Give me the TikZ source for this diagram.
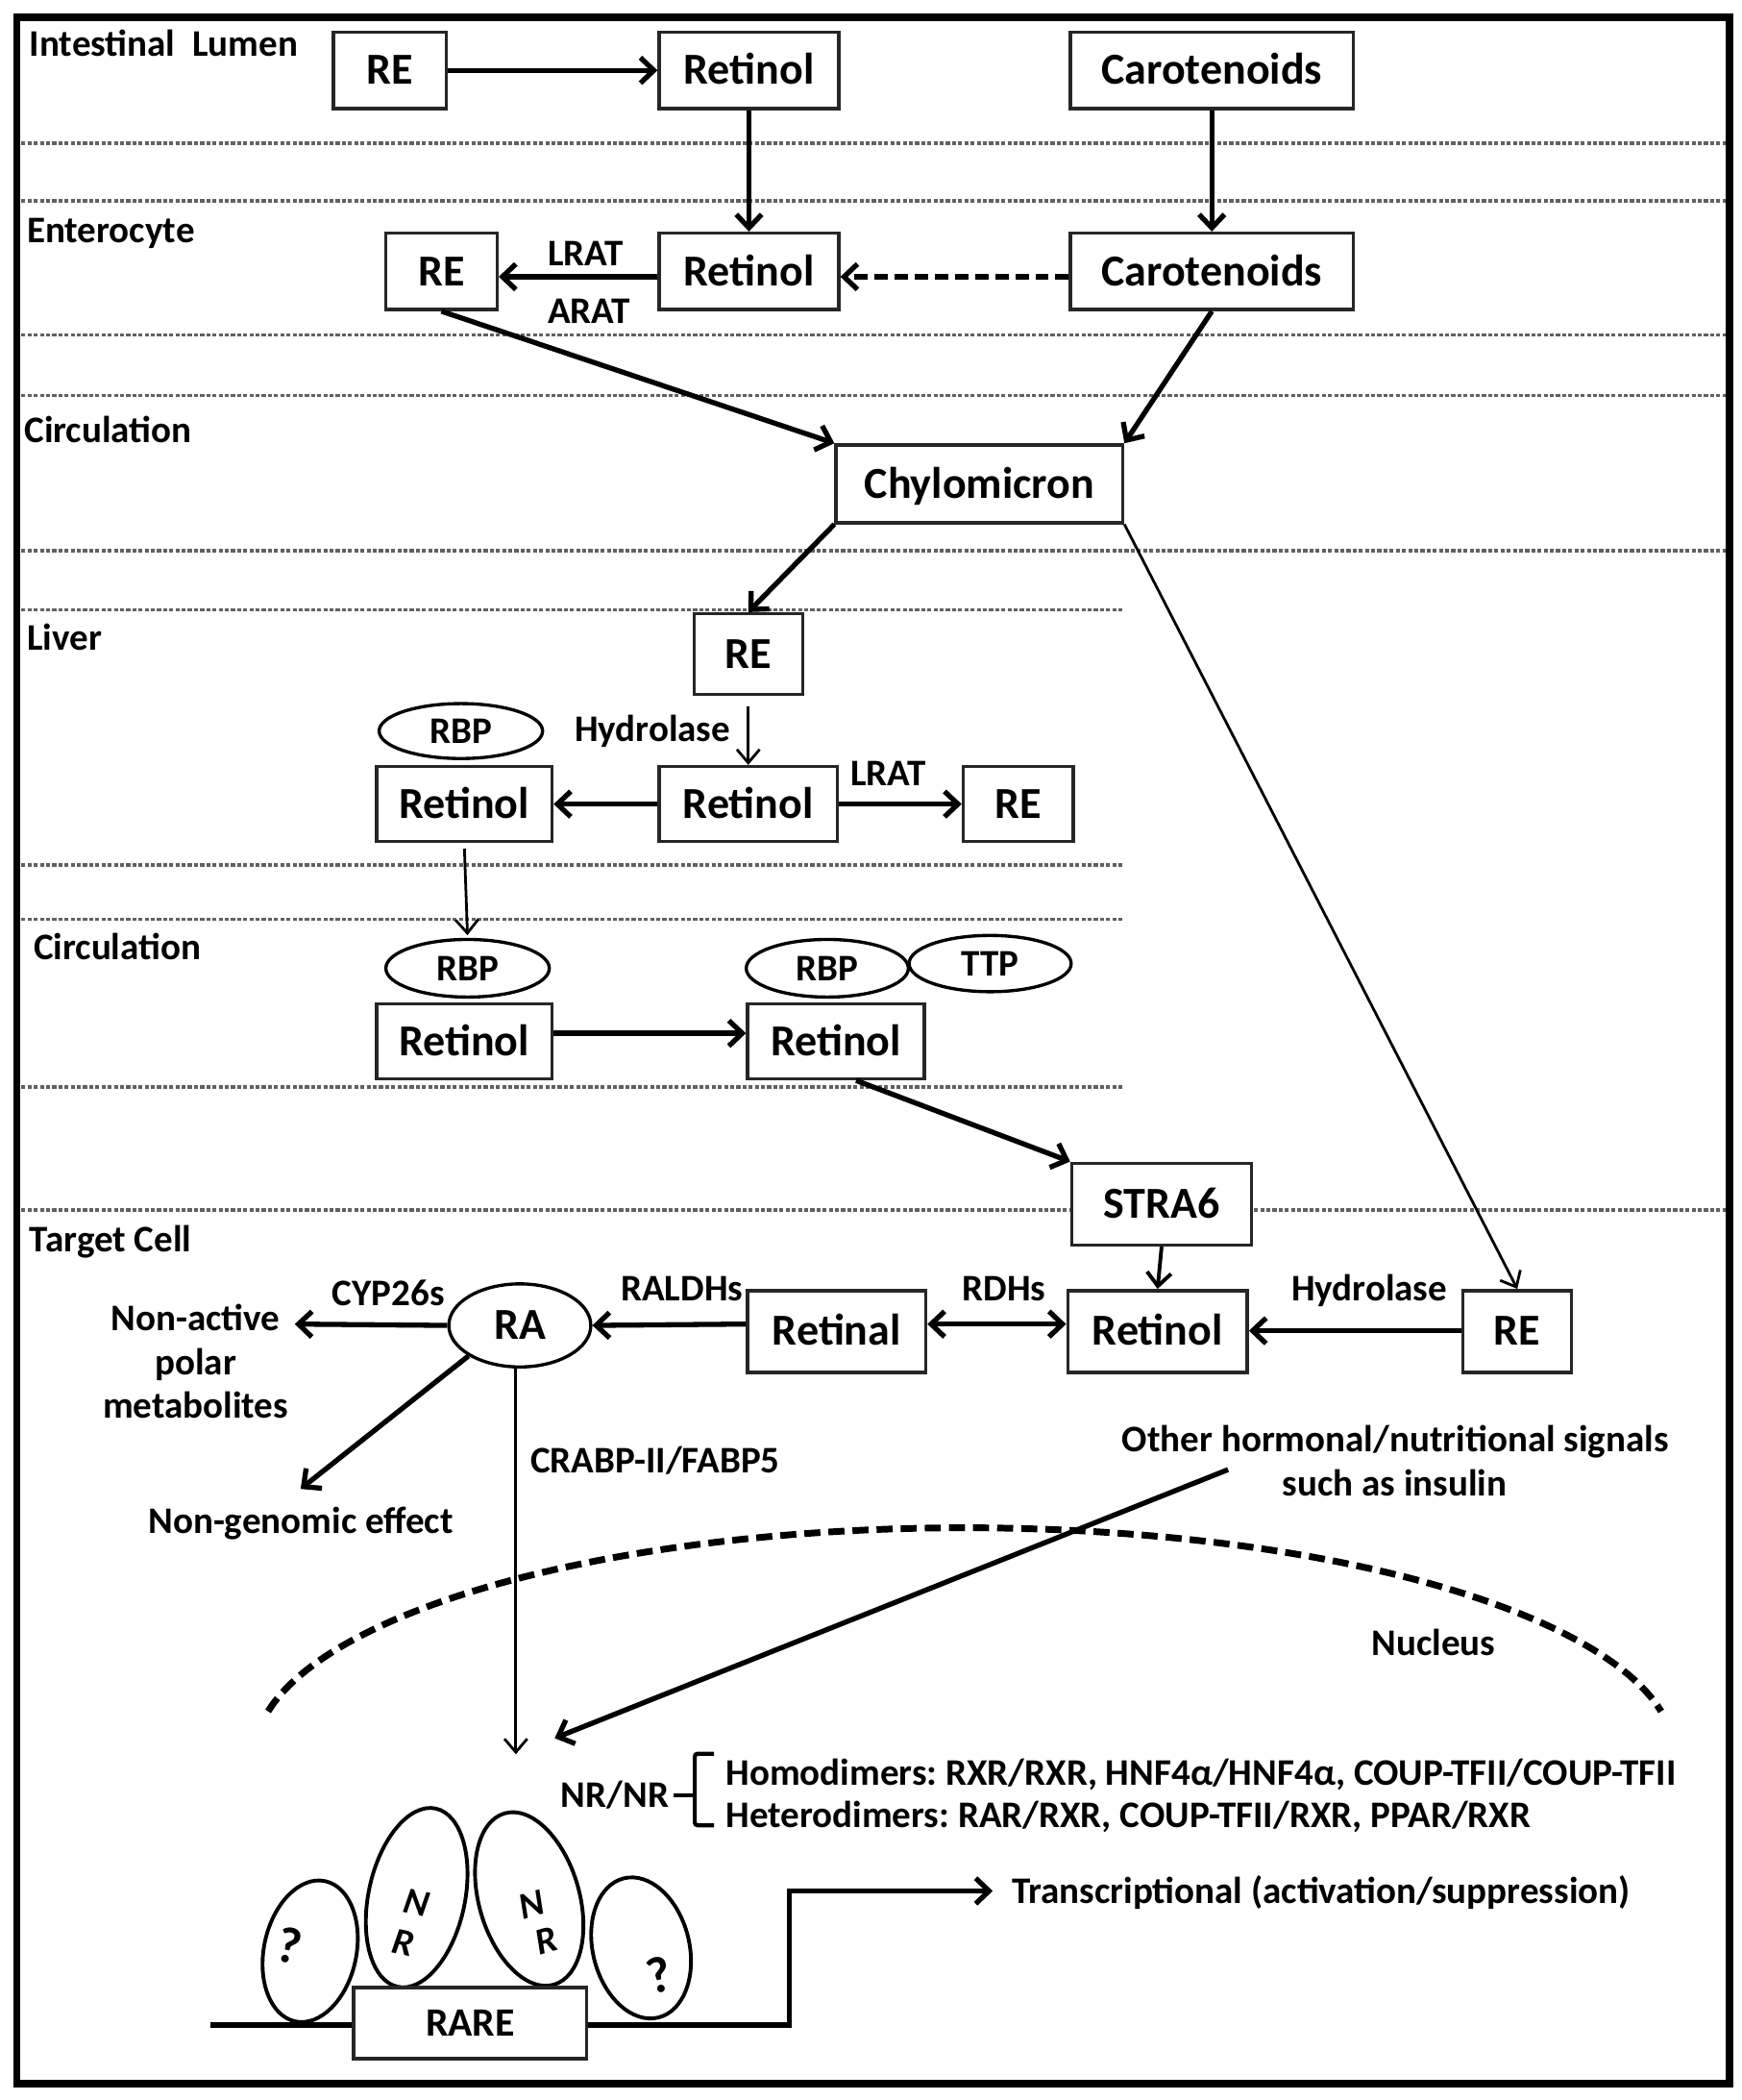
\documentclass[tikz,border=0pt]{standalone}
\usepackage{fontspec}
\setmainfont{Carlito}
\usetikzlibrary{arrows.meta,shapes.geometric}
\frenchspacing
\begin{document}
\begin{tikzpicture}[x=1pt,y=-1pt,
  box/.style={draw=black!85, line width=2.5pt, fill=white, inner sep=0pt, font=\fontsize{33}{36}\selectfont\bfseries, text height=21pt, text depth=0pt},
  oval/.style={draw, ellipse, line width=2.4pt, fill=white, inner sep=0pt, font=\fontsize{28}{30}\selectfont\bfseries, text height=18pt, text depth=0pt},
  lbl/.style={inner sep=0pt, font=\fontsize{28}{30}\selectfont\bfseries, text height=18pt, text depth=0pt},
  nrell/.style={draw, ellipse, line width=2.8pt, inner sep=0pt},
  nrtxt/.style={inner sep=0pt, font=\fontsize{28}{30}\selectfont\bfseries\itshape},
  qtxt/.style={inner sep=0pt, font=\fontsize{38}{40}\selectfont\bfseries},
  sep/.style={draw=black!62, line width=2.6pt, dash pattern=on 3pt off 1.6pt},
  arr/.style={line width=3.8pt, -{Straight Barb[length=10pt,width=19pt]}},
  marr/.style={line width=2.8pt, -{Straight Barb[length=10pt,width=18pt]}},
  tarr/.style={line width=2pt, -{Straight Barb[length=10pt,width=17pt]}},
  nucl/.style={line width=5pt, dash pattern=on 12pt off 6pt},
]
\useasboundingbox (0,0) rectangle (1300,1567);
\fill[white] (0,0) rectangle (1300,1567);

% separators
\foreach \yy in {107,150,250,295,411,903} \draw[sep] (16,\yy) -- (1288,\yy);
\foreach \yy in {455,645.5,686,811} \draw[sep] (16,\yy) -- (838,\yy);

% frame
\draw[line width=5.5pt] (12.5,12.8) rectangle (1291,1555);

% region labels
\node[lbl, anchor=west] (l1) at (22,33) {Intestinal\ \ Lumen};
\node[lbl, anchor=west] (l2) at (20,172) {Enterocyte};
\node[lbl, anchor=west] (l3) at (18,321) {Circulation};
\node[lbl, anchor=west] (l4) at (20,476) {Liver};
\node[lbl, anchor=west] (l5) at (25,707) {Circulation};
\node[lbl, anchor=west] (l6) at (22,925) {Target Cell};

% boxes
\node[box, minimum width=84, minimum height=57] (re1) at (291,52.5) {RE};
\node[box, minimum width=134, minimum height=57] (ret1) at (559,52.5) {Retinol};
\node[box, minimum width=211, minimum height=57] (car1) at (904.5,52.5) {Carotenoids};
\node[box, minimum width=83, minimum height=57] (re2) at (329.5,202.5) {RE};
\node[box, minimum width=134, minimum height=57] (ret2) at (559,202.5) {Retinol};
\node[box, minimum width=211, minimum height=57] (car2) at (904.5,202.5) {Carotenoids};
\node[box, minimum width=214, minimum height=58] (chy) at (731,361) {Chylomicron};
\node[box, minimum width=81, minimum height=60] (re3) at (558.5,488) {RE};
\node[box, minimum width=131, minimum height=56] (ret3) at (346.5,600) {Retinol};
\node[box, minimum width=133, minimum height=56] (ret4) at (558.5,600) {Retinol};
\node[box, minimum width=82, minimum height=56] (re4) at (760,600) {RE};
\node[box, minimum width=131, minimum height=56] (ret5) at (346.5,777) {Retinol};
\node[box, minimum width=132, minimum height=56] (ret6) at (624,777) {Retinol};
\node[box, minimum width=134, minimum height=61] (stra) at (867,898.5) {STRA6};
\node[box, minimum width=133, minimum height=61] (retal) at (624.5,993.5) {Retinal};
\node[box, minimum width=134, minimum height=61] (ret7) at (864,993.5) {Retinol};
\node[box, minimum width=81, minimum height=61] (re5) at (1132.5,993.5) {RE};

% ovals
\node[oval, minimum width=122, minimum height=41] (rbp1) at (344,545.5) {RBP};
\node[oval, minimum width=122, minimum height=43] (rbp2) at (349,722.5) {RBP};
\node[oval, minimum width=121, minimum height=42] (ttp) at (739,719) {TTP};
\node[oval, minimum width=121, minimum height=43] (rbp3) at (617.5,722.5) {RBP};
\node[oval, minimum width=106, minimum height=62, font=\fontsize{33}{36}\selectfont\bfseries, text height=21pt] (ra) at (388,989) {RA};

% labels
\node[lbl] (lrat1) at (437,189) {LRAT};
\node[lbl] (arat1) at (439.5,232) {ARAT};
\node[lbl] (hyd1) at (487,544.5) {Hydrolase};
\node[lbl] (lrat2) at (663,577) {LRAT};
\node[lbl] (cyp) at (290,965) {CYP26s};
\node[lbl] (rald) at (509,962) {RALDHs};
\node[lbl] (rdh) at (749.5,962) {RDHs};
\node[lbl] (hyd2) at (1022,962) {Hydrolase};
\node[lbl] (na1) at (146,983.6) {Non-active};
\node[lbl] (na2) at (146,1017) {polar};
\node[lbl] (na3) at (146,1049) {metabolites};
\node[lbl] (ng) at (224.5,1135) {Non-genomic effect};
\node[lbl] (crabp) at (489,1090) {CRABP-II/FABP5};
\node[lbl] (oth1) at (1041.5,1074) {Other hormonal/nutritional signals};
\node[lbl] (oth2) at (1041,1107) {such as insulin};
\node[lbl] (nuc) at (1070,1226) {Nucleus};
\node[lbl] (nrnr) at (459,1339.5) {NR/NR};
\node[lbl, anchor=west] (homo) at (541.6,1323) {Homodimers: RXR/RXR, HNF4α/HNF4α, COUP-TFII/COUP-TFII};
\node[lbl, anchor=west] (hetero) at (541.6,1355) {Heterodimers: RAR/RXR, COUP-TFII/RXR, PPAR/RXR};
\node[lbl, anchor=west] (trans) at (755,1411.5) {Transcriptional (activation/suppression)};

% coordinates for free ends
\coordinate (naend) at (220,988);
\coordinate (ngend) at (224.4,1111);
\coordinate (nrtop) at (385,1309);
\coordinate (othstart) at (916.6,1096.6);
\coordinate (othend) at (414,1297);
\coordinate (dnaL) at (157,1511);
\coordinate (dnaC) at (589,1511);
\coordinate (dnaU) at (589,1411);
\coordinate (dnaE) at (741,1411);

% arrows
\draw[arr] (re1.east) -- (ret1.west);
\draw[arr] (ret1.south) -- (ret2.north);
\draw[arr] (car1.south) -- (car2.north);
\draw[arr] ([yshift=-4pt]ret2.west) -- ([yshift=-4pt]re2.east);
\draw[arr, dash pattern=on 10pt off 5pt] ([yshift=-4pt]car2.west) -- ([yshift=-4pt]ret2.east);
\draw[arr] (re2.south) -- (chy.north west);
\draw[arr] (car2.south) -- (chy.north east);
\draw[arr] (chy.south west) -- (re3.north);
\draw[tarr] (chy.south east) -- (re5.north);
\draw[tarr, shorten <=8pt] (re3.south) -- (ret4.north);
\draw[arr] (ret4.west) -- (ret3.east);
\draw[arr] (ret4.east) -- (re4.west);
\draw[tarr, shorten <=4pt, shorten >=2pt] (ret3.south) -- (rbp2.north);
\draw[arr] ([yshift=6pt]ret5.east) -- ([yshift=6pt]ret6.west);
\draw[arr] ([xshift=15pt]ret6.south) -- (stra.north west);
\draw[marr] (stra.south) -- (ret7.north);
\draw[arr, {Straight Barb[length=10pt,width=19pt]}-{Straight Barb[length=10pt,width=19pt]}] ([yshift=5.5pt]retal.east) -- ([yshift=5.5pt]ret7.west);
\draw[arr] ([yshift=0.5pt]re5.west) -- ([yshift=0.5pt]ret7.east);
\draw[arr] ([yshift=5.5pt]retal.west) -- (ra.east);
\draw[arr] (ra.west) -- (naend);
\draw[arr] (ra.south west) -- (ngend);
\draw[tarr] (ra.south -| nrtop) -- (nrtop);
\draw[arr] (othstart) -- (othend);

% nucleus membrane
\draw[nucl] plot[domain=168.8:11.2, samples=90, smooth] ({720+530*cos(\x)},{1310-170*sin(\x)});

% DNA and transcription
\draw[arr] (dnaL) -- (dnaC) -- (dnaU) -- (dnaE);

% nuclear receptors
\node[nrell, minimum width=69, minimum height=107, rotate=-12] (q1) at (231.5,1456) {};
\node[nrell, minimum width=72, minimum height=136, rotate=-12] (nr1) at (311,1416) {};
\node[nrell, minimum width=75, minimum height=133, rotate=16] (nr2) at (395,1417) {};
\node[nrell, minimum width=72, minimum height=107, rotate=14] (q2) at (478.5,1453.5) {};
\node[qtxt, rotate=-12] (q1t) at (216,1452) {?};
\node[qtxt, rotate=14] (q2t) at (492,1474) {?};
\node[nrtxt, rotate=-12] (n1) at (311,1420) {N};
\node[nrtxt, rotate=-12] (r1) at (301,1450) {R};
\node[nrtxt, rotate=16] (n2) at (397,1421) {N};
\node[nrtxt, rotate=16] (r2) at (408,1448) {R};
\node[box, minimum width=174, minimum height=53, font=\fontsize{30}{32}\selectfont\bfseries, text height=19pt] (rare) at (351,1509.5) {RARE};

% brace
\draw[line width=3pt] (nrnr.east) ++(3,0) -- ++(14.6,0);
\draw[line width=3pt, rounded corners=2pt] (533,1308.6) -- (518.6,1308.6) -- (518.6,1362) -- (533,1362);
\end{tikzpicture}
\end{document}
